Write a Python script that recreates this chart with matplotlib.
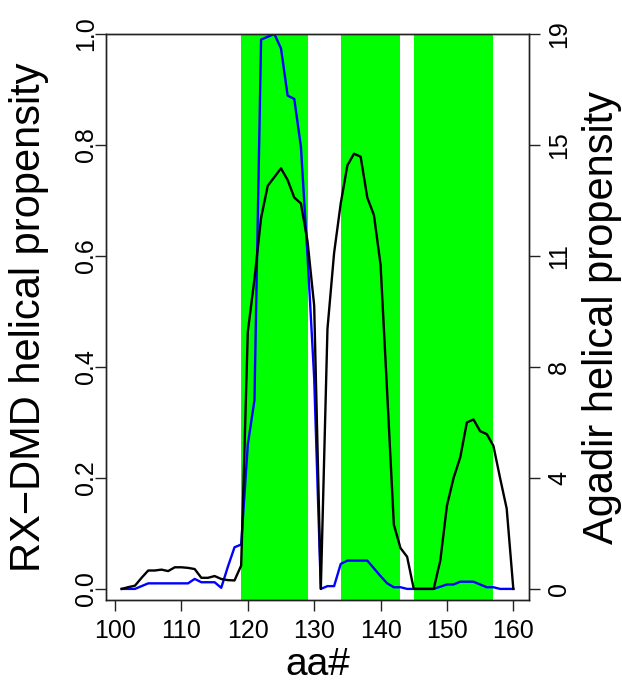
import matplotlib
matplotlib.use("Agg")
import matplotlib.pyplot as plt
import numpy as np

plt.rcParams['font.family'] = ['Liberation Sans', 'DejaVu Sans']

# residue numbers
aa = list(range(101, 161))

# RX-DMD helical propensity (left axis, 0..1)
rxdmd = [0.0, 0.0, 0.0, 0.005, 0.01, 0.01, 0.01, 0.01, 0.01, 0.01,
         0.01, 0.018, 0.012, 0.012, 0.012, 0.002, 0.04, 0.075, 0.08, 0.26,
         0.34, 0.99, 0.995, 1.0, 0.974, 0.889, 0.883, 0.797, 0.6, 0.38,
         0.0, 0.005, 0.005, 0.045, 0.051, 0.051, 0.051, 0.051, 0.037, 0.023,
         0.01, 0.003, 0.003, 0.0, 0.0, 0.0, 0.0, 0.0, 0.004, 0.008,
         0.008, 0.013, 0.013, 0.013, 0.008, 0.003, 0.003, 0.0, 0.0, 0.0]

# Agadir helical propensity (right axis)
agadir = [0.0, 0.06, 0.11, 0.38, 0.63, 0.63, 0.66, 0.61, 0.74, 0.74,
          0.72, 0.68, 0.38, 0.38, 0.44, 0.34, 0.30, 0.29, 0.80, 8.8,
          10.6, 12.7, 13.8, 14.1, 14.4, 14.0, 13.4, 13.2, 11.9, 9.7,
          0.0, 8.9, 11.5, 13.2, 14.5, 14.9, 14.8, 13.4, 12.8, 11.1,
          6.7, 2.2, 1.4, 1.1, 0.0, 0.0, 0.0, 0.0, 0.97, 2.85,
          3.8, 4.5, 5.7, 5.8, 5.4, 5.3, 4.9, 3.8, 2.75, 0.0]

# helical regions (green bands)
band_start = [119, 134, 145]
band_end = [129, 143, 157]

x_ticks = [100, 110, 120, 130, 140, 150, 160]
left_ticks = [0.0, 0.2, 0.4, 0.6, 0.8, 1.0]
left_labels = ["0.0", "0.2", "0.4", "0.6", "0.8", "1.0"]
agadir_max = 19
right_labels = ["0", "4", "8", "11", "15", "19"]

fig = plt.figure(figsize=(6.22, 6.86), dpi=100)
ax = fig.add_axes([106/622, 1-600/686, 423/622, 566/686])

for s, e in zip(band_start, band_end):
    ax.axvspan(s, e, color='#00FF00', lw=0, zorder=0)

ax.plot(aa, rxdmd, color='#0000FF', lw=1.7, zorder=2)
ax.set_xlim(98.64, 162.36)
ax.set_ylim(-0.02, 1.0)

ax.set_xticks(x_ticks)
ax.set_xticklabels([str(t) for t in x_ticks])
ax.set_yticks(left_ticks)
ax.set_yticklabels(left_labels, rotation=90, va='center')

ax2 = ax.twinx()
ax2.plot(aa, agadir, color='black', lw=1.7, zorder=3)
ax2.set_ylim(-0.02*agadir_max, agadir_max)
right_ticks = [v*agadir_max for v in left_ticks]
ax2.set_yticks(right_ticks)
ax2.set_yticklabels(right_labels, rotation=90, va='center')

for a in (ax, ax2):
    for sp in a.spines.values():
        sp.set_linewidth(1.0)
        sp.set_color('#222222')
    a.tick_params(length=8, width=1.0, color='#222222', labelsize=18)
ax.tick_params(axis='x', pad=6)
ax.tick_params(axis='y', pad=-2)
ax2.tick_params(axis='y', pad=5)

ax.set_xlabel("aa#", fontsize=28)
ax.xaxis.set_label_coords(0.5, -(665-600)/566)
ax.xaxis.label.set_va('center')
ax.set_ylabel("RX\u2212DMD helical propensity", fontsize=30)
ax.yaxis.set_label_coords((29-106)/423, 0.5)
ax.yaxis.label.set_va('center')
ax2.set_ylabel("Agadir helical propensity", fontsize=30, rotation=90)
ax2.yaxis.set_label_coords((602-106)/423, 0.5)
ax2.yaxis.label.set_va('center')

fig.savefig("out.png", dpi=100)
